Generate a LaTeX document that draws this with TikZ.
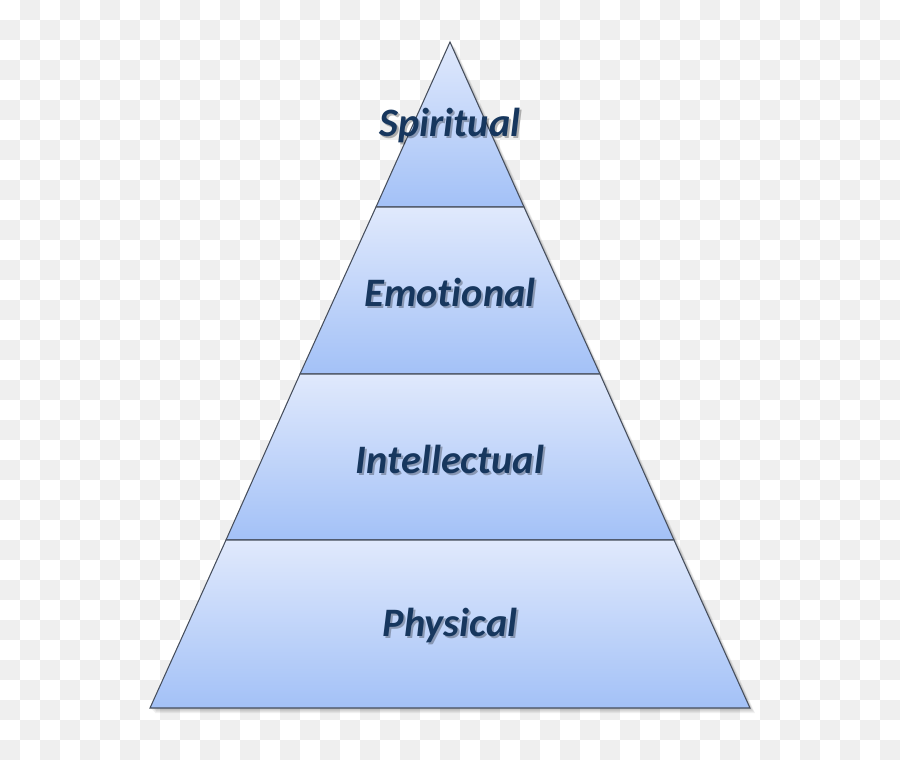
\documentclass[tikz,border=0pt]{standalone}
\usepackage{fontspec}
\setmainfont{Carlito}[Ligatures=NoCommon]
\usepackage{tikz}
\usetikzlibrary{calc}
\definecolor{tiertop}{RGB}{224,233,252}
\definecolor{tierbot}{RGB}{163,193,247}
\definecolor{tierline}{RGB}{70,78,92}
\definecolor{tierink}{RGB}{23,55,94}
\definecolor{checker}{RGB}{239,239,239}
\tikzstyle{tier} = [draw=tierline,line width=0.6pt,top color=tiertop,bottom color=tierbot]
\tikzstyle{tiertext} = [text=tierink,font=\fontsize{23}{27}\selectfont\bfseries\itshape,inner sep=0pt]
\tikzstyle{tiershade} = [text=black,opacity=0.28,font=\fontsize{23}{27}\selectfont\bfseries\itshape,inner sep=0pt]

\begin{document}
\begin{tikzpicture}[x=0.02cm,y=-0.02cm]
	% background checks
	\fill[white] (0,0) rectangle (900,757);
	\foreach \i in {0,...,44}
	  \foreach \j in {0,...,37}{
	    \pgfmathtruncatemacro{\odd}{mod(\i+\j,2)}
	    \ifnum\odd=1 \fill[checker] (20*\i,20*\j) rectangle ++(20,20); \fi
	  }
	\useasboundingbox (0,0) rectangle (900,757);

	% corners of the tiers
	\coordinate (apex) at (450,42);
	\coordinate (l1) at (376,207); \coordinate (r1) at (524,207);
	\coordinate (l2) at (300,374); \coordinate (r2) at (600,374);
	\coordinate (l3) at (226,540); \coordinate (r3) at (674,540);
	\coordinate (l4) at (150,708); \coordinate (r4) at (750,708);

	% soft shadow
	\foreach \k in {1,...,5}
	  \fill[black,opacity=0.05] ($(apex)+(\k,\k)$) -- ($(r4)+(\k,\k)$) -- ($(l4)+(\k,\k)$) -- cycle;

	% now the tiers
	\draw[tier] (apex) -- (r1) -- (l1) -- cycle;
	\draw[tier] (l1) -- (r1) -- (r2) -- (l2) -- cycle;
	\draw[tier] (l2) -- (r2) -- (r3) -- (l3) -- cycle;
	\draw[tier] (l3) -- (r3) -- (r4) -- (l4) -- cycle;

	% labels
	\node[tiershade] at (452,128) {Spiritual};
	\node[tiertext] (spiritual) at (450,126) {Spiritual};
	\node[tiershade] at (452,294) {Emotional};
	\node[tiertext] (emotional) at (450,292) {Emotional};
	\node[tiershade] at (452,461) {Intellectual};
	\node[tiertext] (intellectual) at (450,459) {Intellectual};
	\node[tiershade] at (452,627) {Physical};
	\node[tiertext] (physical) at (450,625) {Physical};
\end{tikzpicture}
\end{document}
